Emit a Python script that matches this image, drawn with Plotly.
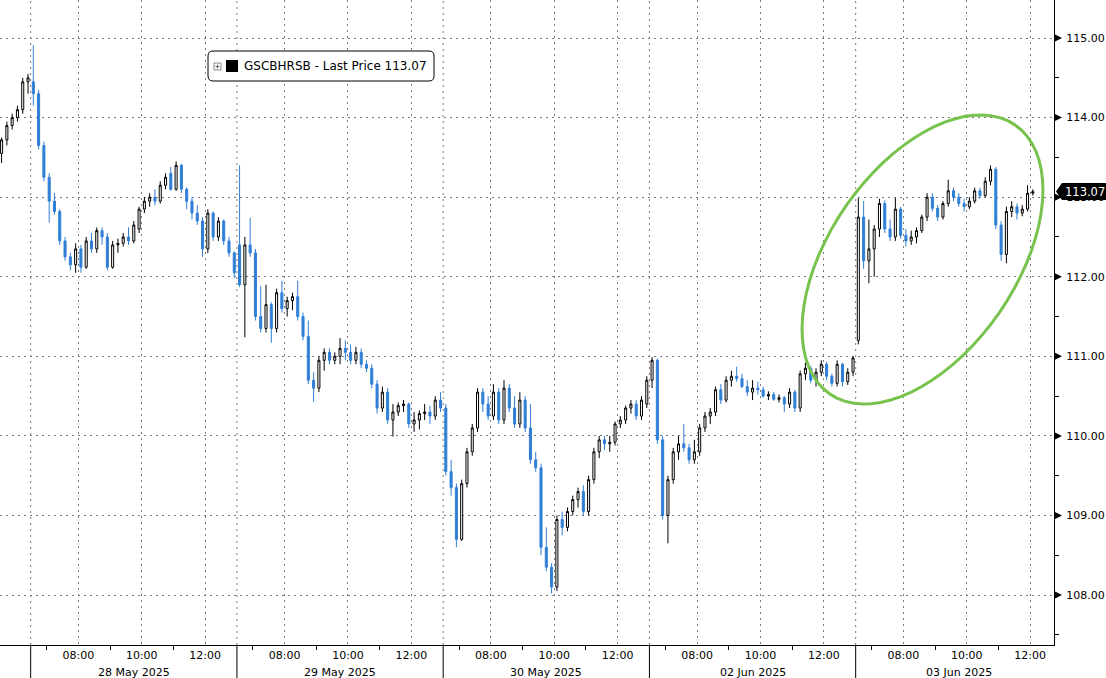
import math
import pandas as pd
import plotly.graph_objects as go

# ---------------- data: 10-minute OHLC bars per session ----------------
ticker = "GSCBHRSB"

session_starts = ["2025-05-27 12:00", "2025-05-28 06:30", "2025-05-29 06:30",
                  "2025-05-30 06:30", "2025-06-02 06:30", "2025-06-03 06:30"]

may27 = [(113.55, 113.75, 113.43, 113.72), (113.72, 113.95, 113.65, 113.90),
         (113.90, 114.05, 113.85, 114.00), (114.00, 114.15, 113.95, 114.10),
         (114.10, 114.50, 114.05, 114.45), (114.45, 114.55, 114.30, 114.50)]

may28 = [(114.45, 114.91, 114.15, 114.30), (114.30, 114.35, 113.60, 113.65),
         (113.65, 113.70, 113.20, 113.25), (113.25, 113.30, 112.68, 112.95),
         (112.95, 113.05, 112.78, 112.82), (112.82, 112.85, 112.40, 112.45),
         (112.45, 112.50, 112.20, 112.25), (112.25, 112.30, 112.08, 112.15),
         (112.15, 112.42, 112.05, 112.35), (112.35, 112.40, 112.05, 112.12),
         (112.12, 112.50, 112.10, 112.45), (112.45, 112.55, 112.30, 112.35),
         (112.35, 112.62, 112.30, 112.58), (112.58, 112.62, 112.40, 112.50),
         (112.50, 112.55, 112.08, 112.12), (112.12, 112.45, 112.10, 112.40),
         (112.40, 112.48, 112.30, 112.42), (112.42, 112.55, 112.38, 112.50),
         (112.50, 112.62, 112.40, 112.45), (112.45, 112.70, 112.42, 112.65),
         (112.60, 112.88, 112.55, 112.85), (112.85, 113.00, 112.80, 112.95),
         (112.95, 113.05, 112.88, 113.00), (113.00, 113.10, 112.90, 112.95),
         (112.95, 113.20, 112.92, 113.15), (113.15, 113.30, 113.10, 113.25),
         (113.30, 113.38, 113.08, 113.10), (113.10, 113.45, 113.08, 113.40),
         (113.40, 113.42, 113.05, 113.10), (113.10, 113.12, 112.85, 112.95),
         (112.95, 113.00, 112.72, 112.80), (112.80, 112.90, 112.65, 112.70),
         (112.70, 112.75, 112.25, 112.35), (112.35, 112.85, 112.30, 112.80),
         (112.80, 112.82, 112.45, 112.50), (112.50, 112.75, 112.45, 112.70),
         (112.70, 112.72, 112.40, 112.45), (112.45, 112.50, 112.25, 112.30),
         (112.30, 112.32, 111.98, 112.05)]

may29 = [(112.40, 113.40, 111.87, 111.90), (111.90, 112.50, 111.24, 112.40),
         (112.40, 112.74, 112.25, 112.30), (112.30, 112.35, 111.45, 111.50),
         (111.50, 111.88, 111.30, 111.35), (111.35, 111.90, 111.30, 111.65),
         (111.65, 111.68, 111.17, 111.35), (111.35, 111.85, 111.30, 111.80),
         (111.80, 111.95, 111.55, 111.60), (111.60, 111.75, 111.50, 111.70),
         (111.70, 111.80, 111.58, 111.75), (111.75, 111.95, 111.45, 111.50),
         (111.50, 111.55, 111.20, 111.25), (111.25, 111.45, 110.65, 110.70),
         (110.70, 110.80, 110.43, 110.60), (110.60, 111.00, 110.55, 110.95),
         (110.95, 111.10, 110.82, 111.05), (111.05, 111.10, 110.90, 110.95),
         (110.95, 111.05, 110.90, 111.00), (111.00, 111.23, 110.90, 111.10),
         (111.10, 111.20, 110.95, 111.05), (111.05, 111.15, 110.90, 110.95),
         (110.95, 111.12, 110.90, 111.05), (111.05, 111.10, 110.85, 110.90),
         (110.90, 110.95, 110.80, 110.85), (110.85, 110.90, 110.60, 110.65),
         (110.65, 110.70, 110.28, 110.35), (110.35, 110.62, 110.30, 110.55),
         (110.55, 110.60, 110.15, 110.20), (110.20, 110.40, 109.99, 110.30),
         (110.30, 110.42, 110.25, 110.38), (110.38, 110.45, 110.30, 110.40),
         (110.40, 110.42, 110.10, 110.15), (110.15, 110.30, 110.05, 110.20),
         (110.20, 110.32, 110.08, 110.28), (110.28, 110.40, 110.20, 110.30),
         (110.30, 110.38, 110.15, 110.25), (110.25, 110.50, 110.20, 110.45),
         (110.45, 110.55, 110.30, 110.35)]

may30 = [(110.35, 110.40, 109.50, 109.55), (109.55, 109.70, 109.25, 109.35),
         (109.35, 109.40, 108.60, 108.70), (108.70, 109.45, 108.68, 109.40),
         (109.40, 109.85, 109.35, 109.80), (109.80, 110.15, 109.75, 110.10),
         (110.10, 110.60, 110.05, 110.55), (110.55, 110.60, 110.30, 110.40),
         (110.40, 110.50, 110.20, 110.25), (110.25, 110.65, 110.20, 110.55),
         (110.55, 110.60, 110.15, 110.20), (110.20, 110.70, 110.15, 110.60),
         (110.60, 110.65, 110.30, 110.35), (110.35, 110.50, 110.10, 110.15),
         (110.15, 110.55, 110.10, 110.45), (110.45, 110.50, 110.05, 110.10),
         (110.10, 110.40, 109.65, 109.70), (109.70, 109.80, 109.55, 109.60),
         (109.60, 109.65, 108.50, 108.60), (108.60, 108.85, 108.30, 108.35),
         (108.35, 108.40, 108.02, 108.10), (108.10, 109.00, 108.05, 108.95),
         (108.95, 109.05, 108.75, 108.85), (108.85, 109.10, 108.80, 109.05),
         (109.05, 109.25, 109.00, 109.20), (109.20, 109.35, 109.10, 109.30),
         (109.30, 109.38, 109.00, 109.05), (109.05, 109.50, 109.00, 109.45),
         (109.45, 109.85, 109.40, 109.80), (109.80, 110.00, 109.72, 109.95),
         (109.95, 110.00, 109.82, 109.90), (109.90, 110.00, 109.80, 109.92),
         (109.92, 110.18, 109.88, 110.15), (110.15, 110.25, 110.10, 110.20),
         (110.20, 110.38, 110.15, 110.35), (110.35, 110.45, 110.28, 110.40),
         (110.40, 110.45, 110.20, 110.25), (110.25, 110.50, 110.20, 110.45),
         (110.40, 110.75, 110.35, 110.70)]

jun02 = [(110.70, 110.99, 110.60, 110.95), (110.95, 110.97, 109.90, 109.95),
         (109.95, 110.00, 108.95, 109.00), (109.00, 109.50, 108.65, 109.45),
         (109.45, 109.85, 109.40, 109.80), (109.80, 110.00, 109.70, 109.90),
         (109.90, 110.15, 109.80, 109.85), (109.85, 109.90, 109.65, 109.70),
         (109.70, 109.95, 109.65, 109.80), (109.80, 110.15, 109.75, 110.10),
         (110.10, 110.30, 110.05, 110.25), (110.25, 110.35, 110.15, 110.30),
         (110.30, 110.62, 110.25, 110.58), (110.58, 110.65, 110.40, 110.45),
         (110.45, 110.75, 110.42, 110.70), (110.70, 110.82, 110.62, 110.75),
         (110.75, 110.87, 110.68, 110.72), (110.72, 110.78, 110.60, 110.62),
         (110.62, 110.70, 110.50, 110.55), (110.55, 110.70, 110.45, 110.60),
         (110.60, 110.68, 110.52, 110.58), (110.58, 110.62, 110.48, 110.50),
         (110.50, 110.56, 110.45, 110.52), (110.52, 110.55, 110.44, 110.46),
         (110.46, 110.52, 110.42, 110.48), (110.48, 110.50, 110.30, 110.40),
         (110.40, 110.60, 110.35, 110.55), (110.55, 110.58, 110.30, 110.35),
         (110.35, 110.82, 110.30, 110.78), (110.78, 110.92, 110.70, 110.85),
         (110.85, 110.88, 110.66, 110.70), (110.70, 110.85, 110.62, 110.80),
         (110.80, 110.95, 110.75, 110.90), (110.90, 110.93, 110.70, 110.75),
         (110.75, 110.78, 110.62, 110.66), (110.66, 110.95, 110.62, 110.90),
         (110.90, 110.92, 110.62, 110.68), (110.68, 110.85, 110.64, 110.80),
         (110.80, 111.00, 110.75, 110.98)]

jun03 = [(111.20, 112.99, 111.15, 112.75), (112.75, 112.95, 112.10, 112.20),
         (112.20, 112.72, 111.92, 112.35), (112.35, 112.65, 112.00, 112.60),
         (112.60, 112.98, 112.50, 112.92), (112.92, 112.96, 112.55, 112.60),
         (112.60, 112.72, 112.45, 112.50), (112.50, 112.99, 112.45, 112.85),
         (112.85, 112.88, 112.48, 112.52), (112.52, 112.60, 112.38, 112.45),
         (112.45, 112.58, 112.40, 112.50), (112.50, 112.62, 112.42, 112.58),
         (112.58, 112.78, 112.55, 112.75), (112.75, 113.05, 112.70, 113.00),
         (113.00, 113.05, 112.82, 112.86), (112.86, 112.90, 112.70, 112.75),
         (112.75, 112.95, 112.72, 112.92), (112.92, 113.22, 112.88, 113.08),
         (113.08, 113.12, 112.95, 113.00), (113.00, 113.05, 112.88, 112.92),
         (112.92, 112.98, 112.82, 112.88), (112.88, 113.00, 112.85, 112.95),
         (112.95, 113.12, 112.92, 113.08), (113.08, 113.12, 112.98, 113.02),
         (113.02, 113.25, 113.00, 113.20), (113.20, 113.40, 113.15, 113.35),
         (113.35, 113.38, 112.60, 112.65), (112.65, 112.70, 112.20, 112.28),
         (112.28, 112.88, 112.17, 112.82), (112.82, 112.95, 112.75, 112.88),
         (112.88, 112.92, 112.72, 112.80), (112.80, 112.90, 112.76, 112.85),
         (112.85, 113.15, 112.82, 113.05), (113.05, 113.10, 113.02, 113.07)]

sessions = [may27, may28, may29, may30, jun02, jun03]
day_labels = ["28 May 2025", "29 May 2025", "30 May 2025", "02 Jun 2025", "03 Jun 2025"]
day_dates = ["2025-05-28", "2025-05-29", "2025-05-30", "2025-06-02", "2025-06-03"]
hour_labels = ["08:00", "10:00", "12:00"]
minor_hours = ["07:00", "09:00", "11:00"]
y_ticks = [108, 109, 110, 111, 112, 113, 114, 115]

# ---------------- assemble ----------------
xs, o, h, l, c = [], [], [], [], []
for start, bars in zip(session_starts, sessions):
    times = pd.date_range(start, periods=len(bars), freq="10min") + pd.Timedelta(minutes=5)
    for t, (bo, bh, bl, bc) in zip(times, bars):
        xs.append(t)
        o.append(bo); h.append(bh); l.append(bl); c.append(bc)
last_price = c[-1]

W_PLOT, H_PLOT = 1054.0, 645.0
Y_MIN, Y_MAX = 107.372, 115.478
PX_PER_UNIT = H_PLOT / (Y_MAX - Y_MIN)


def pxx(v):
    return v / W_PLOT


def pxy(v):
    return 1 - v / H_PLOT


BLUE = "#2f7fd6"
GRID = "#7a7a7a"
FONT = "DejaVu Sans"

fig = go.Figure()
fig.add_trace(go.Candlestick(
    x=xs, open=o, high=h, low=l, close=c,
    increasing=dict(line=dict(color="#000000", width=1), fillcolor="#ffffff"),
    decreasing=dict(line=dict(color=BLUE, width=1), fillcolor=BLUE),
    whiskerwidth=0, showlegend=False, hoverinfo="skip"))

tickvals = [f"{d} {hh}" for d in day_dates for hh in hour_labels]
ticktext = [hh for d in day_dates for hh in hour_labels]
minorvals = [f"{d} {hh}" for d in day_dates for hh in minor_hours]

shapes = []
annotations = []

# day separators: dotted in the plot, solid below the axis
for d in day_dates:
    x0 = f"{d} 06:30"
    shapes.append(dict(type="line", xref="x", yref="paper", x0=x0, x1=x0, y0=0, y1=1,
                       line=dict(color=GRID, width=1, dash="2px,4px"), layer="below"))
    shapes.append(dict(type="line", xref="x", yref="paper", x0=x0, x1=x0, y0=0,
                       y1=-40 / H_PLOT, line=dict(color="#000000", width=1)))

# date labels
for d, lab in zip(day_dates, day_labels):
    annotations.append(dict(x=f"{d} 09:45", y=0, xref="x", yref="paper", text=lab,
                            showarrow=False, yshift=-27, yanchor="middle",
                            font=dict(family=FONT, size=11, color="#000000")))

# right-axis triangle markers
half = 3.5 / PX_PER_UNIT
for v in y_ticks:
    shapes.append(dict(type="path", xref="paper", yref="y",
                       path=f"M {1 + pxx(1)},{v + half} L {1 + pxx(8)},{v} L {1 + pxx(1)},{v - half} Z",
                       fillcolor="#000000", line=dict(width=0)))

# last price tag
th = 8.5 / PX_PER_UNIT
shapes.append(dict(type="path", xref="paper", yref="y",
                   path=(f"M {1 + pxx(2)},{last_price} L {1 + pxx(8)},{last_price + th} "
                         f"L {1 + pxx(52)},{last_price + th} L {1 + pxx(52)},{last_price - th} "
                         f"L {1 + pxx(8)},{last_price - th} Z"),
                   fillcolor="#000000", line=dict(width=0)))
annotations.append(dict(x=1 + pxx(9), y=last_price, xref="paper", yref="y",
                        text=f"{last_price:.2f}", showarrow=False, xanchor="left",
                        yanchor="middle", font=dict(family=FONT, size=11.5, color="#ffffff")))

# legend box (rounded)
bx0, by0, bx1, by1, r = 208, 51, 434, 81, 5
path = (f"M {pxx(bx0 + r)},{pxy(by0)} L {pxx(bx1 - r)},{pxy(by0)} "
        f"Q {pxx(bx1)},{pxy(by0)} {pxx(bx1)},{pxy(by0 + r)} "
        f"L {pxx(bx1)},{pxy(by1 - r)} Q {pxx(bx1)},{pxy(by1)} {pxx(bx1 - r)},{pxy(by1)} "
        f"L {pxx(bx0 + r)},{pxy(by1)} Q {pxx(bx0)},{pxy(by1)} {pxx(bx0)},{pxy(by1 - r)} "
        f"L {pxx(bx0)},{pxy(by0 + r)} Q {pxx(bx0)},{pxy(by0)} {pxx(bx0 + r)},{pxy(by0)} Z")
shapes.append(dict(type="path", xref="paper", yref="paper", path=path,
                   fillcolor="#ffffff", line=dict(color="#000000", width=1)))
# small plus box icon
shapes.append(dict(type="rect", xref="paper", yref="paper", x0=pxx(214), x1=pxx(221),
                   y0=pxy(70), y1=pxy(63), line=dict(color="#888888", width=1), fillcolor="#ffffff"))
shapes.append(dict(type="line", xref="paper", yref="paper", x0=pxx(215.5), x1=pxx(219.5),
                   y0=pxy(66.5), y1=pxy(66.5), line=dict(color="#666666", width=1)))
shapes.append(dict(type="line", xref="paper", yref="paper", x0=pxx(217.5), x1=pxx(217.5),
                   y0=pxy(64.5), y1=pxy(68.5), line=dict(color="#666666", width=1)))
shapes.append(dict(type="rect", xref="paper", yref="paper", x0=pxx(226), x1=pxx(238),
                   y0=pxy(72), y1=pxy(60), line=dict(width=0), fillcolor="#000000"))
annotations.append(dict(x=pxx(242), y=pxy(66), xref="paper", yref="paper",
                        text=f"{ticker} - Last Price {last_price:.2f}", showarrow=False,
                        xanchor="left", yanchor="middle",
                        font=dict(family=FONT, size=12, color="#000000")))

# green highlight ellipse (rotated)
cx, cy, a, b, th_deg = 922.5, 259.5, 163.3, 93.4, 55.4
t_r = math.radians(th_deg)
ux, uy = math.cos(t_r), -math.sin(t_r)
vx, vy = math.sin(t_r), math.cos(t_r)
pts = []
for i in range(73):
    t = 2 * math.pi * i / 72
    X = cx + a * math.cos(t) * ux + b * math.sin(t) * vx
    Y = cy + a * math.cos(t) * uy + b * math.sin(t) * vy
    pts.append(f"{pxx(X)},{pxy(Y)}")
shapes.append(dict(type="path", xref="paper", yref="paper",
                   path="M " + " L ".join(pts) + " Z",
                   line=dict(color="#78c24e", width=3)))

fig.update_layout(
    width=1106, height=678,
    margin=dict(l=0, r=52, t=0, b=33),
    paper_bgcolor="#ffffff", plot_bgcolor="#ffffff",
    boxgap=0.45,
    hovermode=False,
    showlegend=False,
    shapes=shapes,
    annotations=annotations,
    font=dict(family=FONT, size=11, color="#000000"),
    xaxis=dict(
        type="date",
        range=["2025-05-27 12:02", "2025-06-03 12:45"],
        rangebreaks=[dict(bounds=["sat", "mon"]), dict(bounds=[13, 6.5], pattern="hour")],
        rangeslider=dict(visible=False),
        tickmode="array", tickvals=tickvals, ticktext=ticktext,
        ticks="", showgrid=True, gridcolor=GRID, griddash="2px,4px", gridwidth=1,
        showline=True, linecolor="#000000", linewidth=1,
        minor=dict(tickmode="array", tickvals=minorvals, ticks="outside", ticklen=4,
                   tickcolor="#000000", showgrid=False),
        tickfont=dict(family=FONT, size=11, color="#000000"),
        zeroline=False, fixedrange=True,
    ),
    yaxis=dict(
        side="right", range=[Y_MIN, Y_MAX],
        tickmode="array", tickvals=y_ticks, ticktext=[f"{v:.2f}" for v in y_ticks],
        ticks="", ticklabelstandoff=9,
        showgrid=True, gridcolor=GRID, griddash="2px,4px", gridwidth=1,
        showline=True, linecolor="#000000", linewidth=1,
        minor=dict(dtick=0.5, tick0=0, ticks="outside", ticklen=4, tickcolor="#000000",
                   showgrid=False),
        tickfont=dict(family=FONT, size=11, color="#000000"),
        zeroline=False, fixedrange=True,
    ),
)

fig.write_html("out.html", config={"displayModeBar": False},
               post_script="document.body.style.margin='0';document.body.style.overflow='hidden';")
